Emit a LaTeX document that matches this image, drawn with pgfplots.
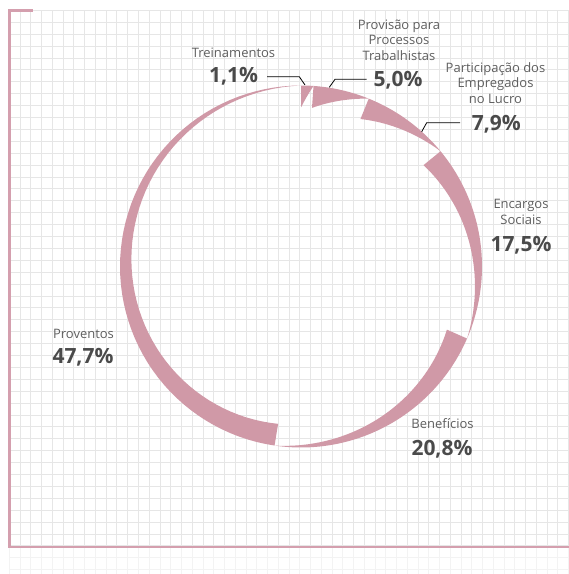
\documentclass[border=0pt]{standalone}
\usepackage{pgfplots}
\pgfplotsset{compat=1.18}
\usepackage{pgfplotstable}
\usepackage{fontspec}
\setmainfont{Open Sans}

\definecolor{seg}{HTML}{D099A7}
\definecolor{frame}{HTML}{D49FAE}
\definecolor{gridc}{HTML}{E6E6E6}
\definecolor{lbl}{HTML}{5E5E5E}
\definecolor{val}{HTML}{4A4A4A}

% share of each item (%), clockwise from the top
\pgfplotstableread[col sep=comma]{
item,pct
Treinamentos,1.1
Provisao,5.0
Participacao,7.9
Encargos,17.5
Beneficios,20.8
Proventos,47.7
}\shares

% start / end angle of every slice
\def\cum{0}
\pgfplotstableforeachcolumnelement{pct}\of\shares\as\p{%
  \pgfmathsetmacro\aS{90-3.6*\cum}%
  \pgfmathsetmacro\aE{90-3.6*(\cum+\p)}%
  \expandafter\xdef\csname aS\pgfplotstablerow\endcsname{\aS}%
  \expandafter\xdef\csname aE\pgfplotstablerow\endcsname{\aE}%
  \pgfmathsetmacro\cnext{\cum+\p}%
  \xdef\cum{\cnext}%
}

% tapered ring slice: full width at the start angle, nothing at the end
\newcommand\slice[2]{%
  \fill[seg] plot[domain=0:1, samples=60, variable=\u]
      ({301+181*cos(#2+\u*((#1)-(#2)))}, {307.5+181*sin(#2+\u*((#1)-(#2)))})
    -- plot[domain=0:1, samples=60, variable=\u]
      ({301+(181-22*(1-\u))*cos(#1-\u*((#1)-(#2)))}, {307.5+(181-22*(1-\u))*sin(#1-\u*((#1)-(#2)))})
    -- cycle;}

\newcommand\lab[3]{\node[anchor=base, lbl, inner sep=0pt, font=\fontsize{13}{15}\selectfont] at (axis cs:#1,#2) {#3};}
\newcommand\val[3]{\node[anchor=base, val, inner sep=0pt, font=\fontsize{21}{24}\selectfont\bfseries] at (axis cs:#1,#2) {#3};}

\begin{document}
\begin{tikzpicture}
\path[use as bounding box] (0,0) rectangle (569pt,574pt);
\begin{axis}[
  at={(9.5pt,0pt)}, anchor=south west,
  x=1pt, y=1pt,
  xmin=9.5, xmax=569, ymin=0, ymax=564,
  axis line style={draw=none},
  major tick length=0pt,
  xtick={9.5,20.25,...,569}, ytick={4.2,16.1,...,564},
  xticklabels={}, yticklabels={},
  grid=major, major grid style={gridc, line width=1pt},
  clip=false,
]
% faded grid below the frame
\fill[white, opacity=0.55] (axis cs:9.5,0) rectangle (axis cs:569,26);
% frame
\draw[frame, line width=2.3pt] (axis cs:33,563.5) -- (axis cs:9.5,563.5) -- (axis cs:9.5,27.2) -- (axis cs:569,27.2);

\pgfplotsinvokeforeach{0,...,5}{%
  \slice{\csname aS#1\endcsname}{\csname aE#1\endcsname}
}

% leader lines
\draw[black, line width=0.8pt] (axis cs:267,497.3) -- (axis cs:299.3,497.3) -- (axis cs:305,489);
\draw[black, line width=0.8pt] (axis cs:366.7,494.7) -- (axis cs:335,494.7) -- (axis cs:329.3,486.7);
\draw[black, line width=0.8pt] (axis cs:460,451.3) -- (axis cs:426.7,451.3) -- (axis cs:421.7,442.3);

% labels
\lab{233.5}{516}{Treinamentos}
\val{233.5}{491}{1,1\%}
\lab{399}{544.5}{Provisão para}
\lab{399}{529}{Processos}
\lab{399}{513}{Trabalhistas}
\val{398}{487}{5,0\%}
\lab{495.5}{501.5}{Participação dos}
\lab{495.5}{486}{Empregados}
\lab{495.5}{470}{no Lucro}
\val{496.3}{443}{7,9\%}
\lab{521}{365.5}{Encargos}
\lab{521}{349}{Sociais}
\val{521}{322.5}{17,5\%}
\lab{442.5}{145.5}{Benefícios}
\val{442}{118}{20,8\%}
\lab{83.5}{235.5}{Proventos}
\val{83}{210}{47,7\%}
\end{axis}
\end{tikzpicture}
\end{document}
